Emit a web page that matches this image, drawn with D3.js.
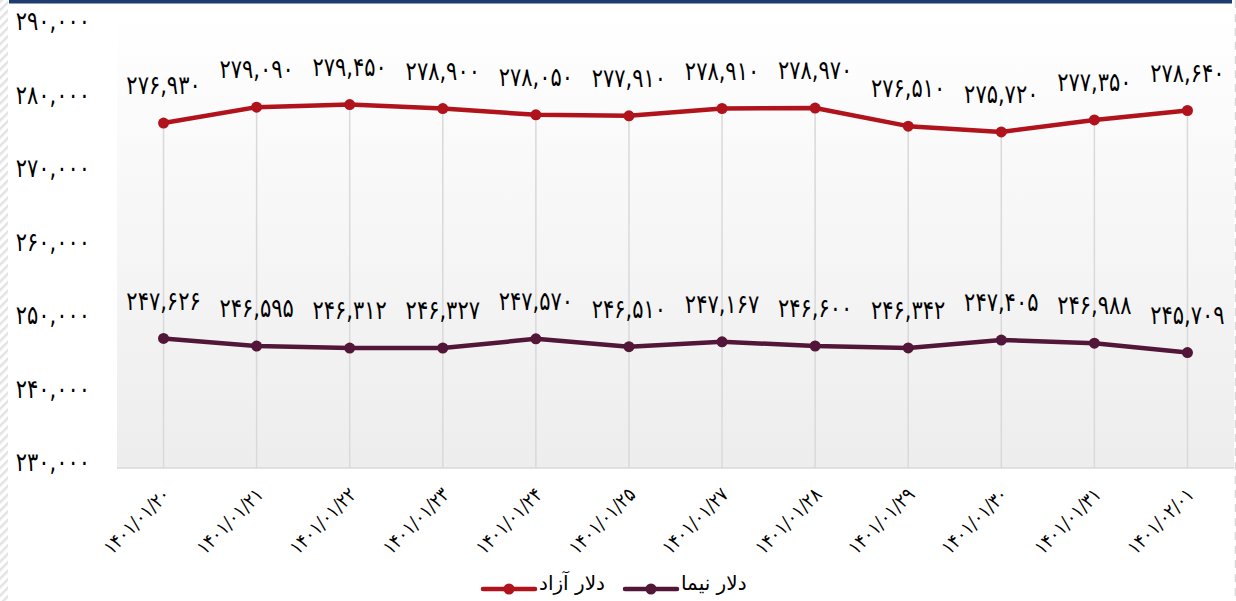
<!DOCTYPE html>
<html>
<head>
<meta charset="utf-8">
<script src="https://cdn.jsdelivr.net/npm/d3@7"></script>
<style>
  body { margin: 0; background: #fff; }
  svg { display: block; }
  text { font-family: "DejaVu Sans", sans-serif; fill: #000; }
</style>
</head>
<body>
<div id="chart"></div>
<script>
// categories and series
var dates = ["1401/01/20", "1401/01/21", "1401/01/22", "1401/01/23", "1401/01/24", "1401/01/25",
             "1401/01/27", "1401/01/28", "1401/01/29", "1401/01/30", "1401/01/31", "1401/02/01"];
var azad = [276930, 279090, 279450, 278900, 278050, 277910, 278910, 278970, 276510, 275720, 277350, 278640];
var nima = [247626, 246595, 246312, 246327, 247570, 246510, 247167, 246600, 246342, 247405, 246988, 245709];
var yTicks = [230000, 240000, 250000, 260000, 270000, 280000, 290000];
var seriesNames = ["دلار آزاد", "دلار نیما"];

var width = 1236, height = 601;
var plot = {left: 117, right: 1234, top: 10, bottom: 468};

// persian digits
function fa(s) {
    return String(s).replace(/[0-9]/g, function(d) { return "۰۱۲۳۴۵۶۷۸۹"[+d]; });
}
var fmt = d3.format(",");

var svg = d3.select("#chart").append("svg")
    .attr("width", width)
    .attr("height", height);

// frame decoration
var defs = svg.append("defs");
var hatch = defs.append("pattern")
    .attr("id", "hatch").attr("width", 6).attr("height", 6)
    .attr("patternUnits", "userSpaceOnUse")
    .attr("patternTransform", "rotate(45)");
hatch.append("rect").attr("width", 2.5).attr("height", 6).attr("fill", "#e3e3e3");
svg.append("rect").attr("x", 0).attr("y", 0).attr("width", 8).attr("height", height).attr("fill", "url(#hatch)");
svg.append("rect").attr("x", 9).attr("y", 0).attr("width", 1223).attr("height", 3.5).attr("fill", "#1f3c70");
svg.append("line")
    .attr("x1", 1235.5).attr("x2", 1235.5).attr("y1", 0).attr("y2", height)
    .attr("stroke", "#d6d6d6").attr("stroke-width", 1.5).attr("stroke-dasharray", "8,6");

var grad = defs.append("linearGradient").attr("id", "bg").attr("x1", 0).attr("x2", 0).attr("y1", 0).attr("y2", 1);
grad.append("stop").attr("offset", "0%").attr("stop-color", "#ffffff");
grad.append("stop").attr("offset", "100%").attr("stop-color", "#ededed");

svg.append("rect")
    .attr("x", plot.left).attr("y", plot.top)
    .attr("width", plot.right - plot.left).attr("height", plot.bottom - plot.top)
    .attr("fill", "url(#bg)");

// scales
var x = d3.scalePoint().domain(dates).range([plot.left, plot.right]).padding(0.5);
var y = d3.scaleLinear().domain([230000, 290000]).range([plot.bottom, 27]);

// drop lines
svg.append("g").selectAll("line")
    .data(dates)
    .enter().append("line")
    .attr("x1", function(d) { return x(d); })
    .attr("x2", function(d) { return x(d); })
    .attr("y1", function(d, i) { return y(azad[i]); })
    .attr("y2", plot.bottom)
    .attr("stroke", "#d9d9d9").attr("stroke-width", 1.5);

// x axis line
svg.append("line")
    .attr("x1", plot.left).attr("x2", plot.right)
    .attr("y1", plot.bottom).attr("y2", plot.bottom)
    .attr("stroke", "#d9d9d9").attr("stroke-width", 1.5);

// y axis labels (stretched a bit to get the taller digit look)
svg.append("g").selectAll("text")
    .data(yTicks)
    .enter().append("text")
    .attr("transform", function(d) { return "translate(90," + (y(d) - 4) + ") scale(1,1.25)"; })
    .attr("text-anchor", "end")
    .attr("dominant-baseline", "middle")
    .style("font-size", "21px")
    .text(function(d) { return fa(fmt(d)); });

// x axis labels
svg.append("g").selectAll("text")
    .data(dates)
    .enter().append("text")
    .attr("transform", function(d) { return "translate(" + (x(d) + 4) + "," + 492 + ") rotate(-45) scale(1,1.15)"; })
    .attr("text-anchor", "end")
    .attr("dominant-baseline", "middle")
    .style("font-size", "17px")
    .text(function(d) { return fa(d); });

var line = d3.line()
    .x(function(d, i) { return x(dates[i]); })
    .y(function(d) { return y(d); });

var series = [
    {name: seriesNames[0], values: azad, color: "#b0131b"},
    {name: seriesNames[1], values: nima, color: "#521638"}
];

series.forEach(function(s) {
    svg.append("path")
        .datum(s.values)
        .attr("d", line)
        .attr("fill", "none")
        .attr("stroke", s.color)
        .attr("stroke-width", 4.5)
        .attr("stroke-linejoin", "round");

    svg.append("g").selectAll("circle")
        .data(s.values)
        .enter().append("circle")
        .attr("cx", function(d, i) { return x(dates[i]); })
        .attr("cy", function(d) { return y(d); })
        .attr("r", 5.5)
        .attr("fill", s.color);

    svg.append("g").selectAll("text")
        .data(s.values)
        .enter().append("text")
        .attr("transform", function(d, i) { return "translate(" + x(dates[i]) + "," + (y(d) - 36) + ") scale(1,1.25)"; })
        .attr("text-anchor", "middle")
        .attr("dominant-baseline", "middle")
        .style("font-size", "21px")
        .text(function(d) { return fa(fmt(d)); });
});

// legend
var legendPos = [{lx: 483, tx: 539}, {lx: 625, tx: 681}];
var legend = svg.append("g");
series.forEach(function(s, i) {
    var p = legendPos[i];
    legend.append("line")
        .attr("x1", p.lx).attr("x2", p.lx + 52)
        .attr("y1", 589).attr("y2", 589)
        .attr("stroke", s.color).attr("stroke-width", 4.5).attr("stroke-linecap", "round");
    legend.append("circle")
        .attr("cx", p.lx + 26).attr("cy", 589).attr("r", 5.5).attr("fill", s.color);
    legend.append("text")
        .attr("x", p.tx).attr("y", 584)
        .attr("text-anchor", "start")
        .attr("dominant-baseline", "middle")
        .style("font-size", "20px")
        .text(s.name);
});
</script>
</body>
</html>
